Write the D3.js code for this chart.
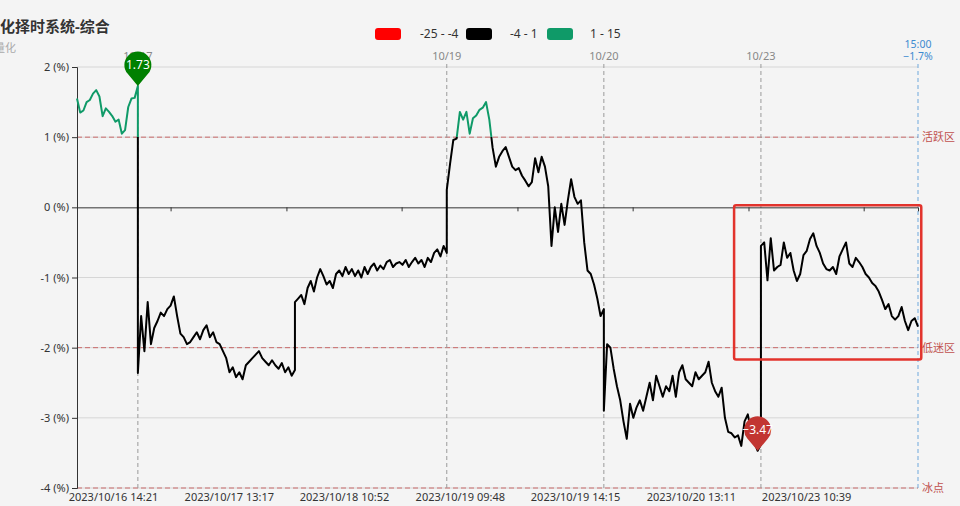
<!DOCTYPE html>
<html><head><meta charset="utf-8">
<script src="https://cdn.jsdelivr.net/npm/d3@7"></script>
<style>
body{margin:0;background:#f4f4f4;}
svg{display:block;font-family:"Noto Sans","Noto Sans CJK SC",sans-serif;}
</style>
</head><body>
<svg id="c" width="960" height="506"></svg>
<script>
// ---------- DATA ----------
const titleText = "量化择时系统-综合";
const subtitleText = "量化";
const dayNames = ["10/16","10/17","10/18","10/19","10/20","10/23"];
const dayMinutes = [93, 240, 232, 240, 240, 240];   // trading minutes shown per day
const v1016 = [1.55,1.35,1.38,1.50,1.53,1.62,1.67,1.58,1.30,1.41,1.36,1.30,1.22,1.25,1.05,1.10,1.43,1.55,1.56,1.73];
const v1017 = [-2.36,-1.55,-2.05,-1.35,-1.95,-1.72,-1.62,-1.50,-1.55,-1.45,-1.40,-1.27,-1.55,-1.80,-1.85,-1.95,-1.92,-1.85,-1.78,-1.88,-1.75,-1.68,-1.85,-1.78,-1.92,-1.95,-2.05,-2.15,-2.35,-2.28,-2.42,-2.35,-2.45,-2.25,-2.20,-2.15,-2.10,-2.05,-2.15,-2.20,-2.25,-2.18,-2.25,-2.30,-2.22,-2.35,-2.28,-2.40,-2.32];
const v1018 = [-1.35,-1.30,-1.25,-1.38,-1.15,-1.05,-1.20,-1.00,-0.88,-0.98,-1.10,-1.05,-1.15,-0.95,-0.90,-0.98,-0.85,-0.95,-0.88,-0.98,-0.90,-1.00,-0.85,-0.95,-0.85,-0.80,-0.90,-0.83,-0.88,-0.78,-0.75,-0.85,-0.80,-0.78,-0.82,-0.75,-0.85,-0.78,-0.72,-0.80,-0.75,-0.85,-0.72,-0.78,-0.65,-0.60,-0.70,-0.55,-0.65];
const v1019 = [0.25,0.62,0.96,0.98,1.36,1.25,1.36,1.05,1.27,1.31,1.39,1.42,1.50,1.25,0.85,0.58,0.72,0.80,0.86,0.72,0.58,0.53,0.56,0.45,0.38,0.30,0.36,0.70,0.50,0.72,0.58,0.30,-0.55,0.00,-0.35,0.05,-0.25,0.10,0.40,0.15,0.05,0.10,-0.50,-0.90,-0.95,-1.10,-1.30,-1.55,-1.45];
const v1020 = [-2.90,-1.95,-2.00,-2.30,-2.55,-2.75,-3.05,-3.30,-2.80,-3.00,-2.85,-2.75,-2.90,-2.70,-2.50,-2.75,-2.40,-2.55,-2.70,-2.55,-2.62,-2.40,-2.70,-2.35,-2.25,-2.45,-2.50,-2.55,-2.35,-2.45,-2.40,-2.35,-2.20,-2.50,-2.62,-2.70,-2.57,-3.00,-3.20,-3.22,-3.28,-3.25,-3.40,-3.05,-2.95,-3.20,-3.35,-3.47,-3.38];
const v1023 = [-0.55,-0.50,-1.04,-0.44,-0.90,-0.85,-0.82,-0.50,-0.72,-0.65,-0.90,-1.05,-0.95,-0.68,-0.62,-0.45,-0.37,-0.55,-0.65,-0.80,-0.88,-0.90,-0.85,-0.95,-0.70,-0.60,-0.50,-0.80,-0.85,-0.72,-0.78,-0.85,-0.95,-1.00,-1.08,-1.12,-1.20,-1.32,-1.45,-1.38,-1.55,-1.60,-1.55,-1.42,-1.62,-1.75,-1.62,-1.58,-1.70];
const dayValues = [v1016, v1017, v1018, v1019, v1020, v1023];

const yTicks = [2, 1, 0, -1, -2, -3, -4];
const xTickLabels = ["2023/10/16 14:21","2023/10/17 13:17","2023/10/18 10:52","2023/10/19 09:48","2023/10/19 14:15","2023/10/20 13:11","2023/10/23 10:39"];
const xTickMinute = [55, 232, 408, 585, 761, 938, 1114];
const separatorDays = ["10/17","10/19","10/20","10/23"];
const endLabel = "15:00";
const zoneLines = [{v:1, label:"活跃区"}, {v:-2, label:"低迷区"}, {v:-4, label:"冰点"}];
const legendPieces = [{label:"-25 - -4", color:"#ff0000"}, {label:"-4 - 1", color:"#000000"}, {label:"1 - 15", color:"#0f9a68"}];
const pieceBounds = {redBelow:-4, greenAbove:1};
const highlightBox = {fromMinute:1004, toMinute:1290, top:0.03, bottom:-2.17};

// ---------- BUILD SERIES ----------
const dayStart = [];
let acc = 0;
dayMinutes.forEach(d => { dayStart.push(acc); acc += d; });
const totalMinutes = acc;
const series = [];
dayValues.forEach((arr, k) => {
  const step = dayMinutes[k] / (arr.length - 1);
  arr.forEach((v, j) => series.push({m: dayStart[k] + j * step, v}));
});

// ---------- LAYOUT ----------
const svg = d3.select("#c");
const W = 960, H = 506;
const pL = 77, pR = 918, pT = 67, pB = 488;
const x = d3.scaleLinear().domain([0, totalMinutes]).range([pL, pR]);
const y = d3.scaleLinear().domain([-4, 2]).range([pB, pT]);
const FONT = "'Noto Sans','Noto Sans CJK SC',sans-serif";

svg.append("rect").attr("width", W).attr("height", H).attr("fill", "#f4f4f4");

// title
svg.append("text").attr("x", -15).attr("y", 32).attr("font-size", 15).attr("font-weight", "bold")
  .attr("fill", "#333").text(titleText);
svg.append("text").attr("x", -6).attr("y", 52).attr("font-size", 11).attr("fill", "#aaa").text(subtitleText);

// legend
const lg = svg.append("g");
const legendX = [375, 466, 547];
const legendTX = [420, 510, 590];
legendPieces.forEach((p, i) => {
  lg.append("rect").attr("x", legendX[i]).attr("y", 28).attr("width", 26).attr("height", 12).attr("rx", 3).attr("fill", p.color);
  lg.append("text").attr("x", legendTX[i]).attr("y", 38).attr("font-size", 12).attr("fill", "#333").text(p.label);
});

// grid lines
yTicks.forEach(t => {
  if (t === 0) return;
  svg.append("line").attr("x1", pL).attr("x2", pR).attr("y1", y(t)).attr("y2", y(t))
    .attr("stroke", "#d6d6d6").attr("stroke-width", 1);
});

// zone mark lines
zoneLines.forEach(z => {
  svg.append("line").attr("x1", pL).attr("x2", pR).attr("y1", y(z.v)).attr("y2", y(z.v))
    .attr("stroke", "#c96a6a").attr("stroke-width", 1).attr("stroke-dasharray", "5,3");
  svg.append("text").attr("x", pR + 4).attr("y", y(z.v) + 4).attr("font-size", 11)
    .attr("fill", "#c0504d").text(z.label);
});

// day separators
separatorDays.forEach(dn => {
  const k = dayNames.indexOf(dn);
  const xx = x(dayStart[k]);
  svg.append("line").attr("x1", xx).attr("x2", xx).attr("y1", 64).attr("y2", pB)
    .attr("stroke", "#9a9a9a").attr("stroke-width", 1).attr("stroke-dasharray", "4,3");
  svg.append("text").attr("x", xx).attr("y", 60).attr("text-anchor", "middle").attr("font-size", 11)
    .attr("fill", "#888").text(dn);
});

// end line
const last = series[series.length - 1];
svg.append("line").attr("x1", x(totalMinutes)).attr("x2", x(totalMinutes)).attr("y1", 64).attr("y2", pB + 2)
  .attr("stroke", "#6fa8dc").attr("stroke-width", 1).attr("stroke-dasharray", "4,3");
svg.append("text").attr("x", x(totalMinutes)).attr("y", 48).attr("text-anchor", "middle").attr("font-size", 10.5)
  .attr("fill", "#3d8bd1").text(endLabel);
svg.append("text").attr("x", x(totalMinutes)).attr("y", 60).attr("text-anchor", "middle").attr("font-size", 10.5)
  .attr("fill", "#3d8bd1").text(d3.format(".1f")(last.v) + "%");

// y axis
const yAxis = d3.axisLeft(y).tickValues(yTicks).tickSize(5).tickFormat(d => d + " (%)");
const yg = svg.append("g").attr("transform", `translate(${pL},0)`).call(yAxis);
yg.select(".domain").attr("stroke", "#333");
yg.selectAll(".tick line").attr("stroke", "#333");
yg.selectAll(".tick text").attr("fill", "#333").attr("font-size", 11).attr("font-family", FONT);

// zero axis line with ticks
const xAxisZero = d3.axisBottom(x).tickValues(xTickMinute.map(m => m + 88).filter(m => m < totalMinutes)).tickSize(4).tickFormat("");
const xz = svg.append("g").attr("transform", `translate(0,${y(0)})`).call(xAxisZero);
xz.select(".domain").attr("stroke", "#333");
xz.selectAll(".tick line").attr("stroke", "#333");

// bottom labels
const xAxisB = d3.axisBottom(x).tickValues(xTickMinute).tickSize(0).tickFormat((d, i) => xTickLabels[i]);
const xb = svg.append("g").attr("transform", `translate(0,${pB})`).call(xAxisB);
xb.select(".domain").remove();
xb.selectAll(".tick text").attr("fill", "#333").attr("font-size", 11).attr("dy", "0.95em").attr("font-family", FONT);

// gradient for visual map pieces
const defs = svg.append("defs");
const grad = defs.append("linearGradient").attr("id", "vm").attr("gradientUnits", "userSpaceOnUse")
  .attr("x1", 0).attr("x2", 0).attr("y1", 0).attr("y2", H);
const oG = y(pieceBounds.greenAbove) / H, oR = y(pieceBounds.redBelow) / H;
grad.append("stop").attr("offset", 0).attr("stop-color", legendPieces[2].color);
grad.append("stop").attr("offset", oG).attr("stop-color", legendPieces[2].color);
grad.append("stop").attr("offset", oG).attr("stop-color", legendPieces[1].color);
grad.append("stop").attr("offset", oR).attr("stop-color", legendPieces[1].color);
grad.append("stop").attr("offset", oR).attr("stop-color", legendPieces[0].color);
grad.append("stop").attr("offset", 1).attr("stop-color", legendPieces[0].color);

// line
const line = d3.line().x(d => x(d.m)).y(d => y(d.v));
svg.append("path").datum(series).attr("d", line).attr("fill", "none")
  .attr("stroke", "url(#vm)").attr("stroke-width", 2).attr("stroke-linejoin", "round");

// highlight box
svg.append("rect").attr("x", x(highlightBox.fromMinute)).attr("y", y(highlightBox.top))
  .attr("width", x(highlightBox.toMinute) - x(highlightBox.fromMinute))
  .attr("height", y(highlightBox.bottom) - y(highlightBox.top))
  .attr("rx", 2).attr("fill", "none").attr("stroke", "#e2332c").attr("stroke-width", 2.5);

// pins for max / min
function pinPath(cx, tipY, r, d) {
  const cy = tipY - d;
  const phi = Math.acos(r / d);
  const px = r * Math.sin(phi), py = r * Math.cos(phi);
  return `M${cx},${tipY} L${cx - px},${cy + py} A${r},${r} 0 1 1 ${cx + px},${cy + py} Z`;
}
const maxPt = series.reduce((a, b) => b.v > a.v ? b : a);
const minPt = series.reduce((a, b) => b.v < a.v ? b : a);
[{p: maxPt, c: "#008000"}, {p: minPt, c: "#c23531"}].forEach(o => {
  const cx = x(o.p.m), tip = y(o.p.v);
  svg.append("path").attr("d", pinPath(cx, tip, 13.5, 21)).attr("fill", o.c);
  svg.append("text").attr("x", cx).attr("y", tip - 21).attr("dy", "0.36em").attr("text-anchor", "middle")
    .attr("font-size", 12).attr("fill", "#fff").text(d3.format(".2f")(o.p.v));
});
</script>
</body></html>
